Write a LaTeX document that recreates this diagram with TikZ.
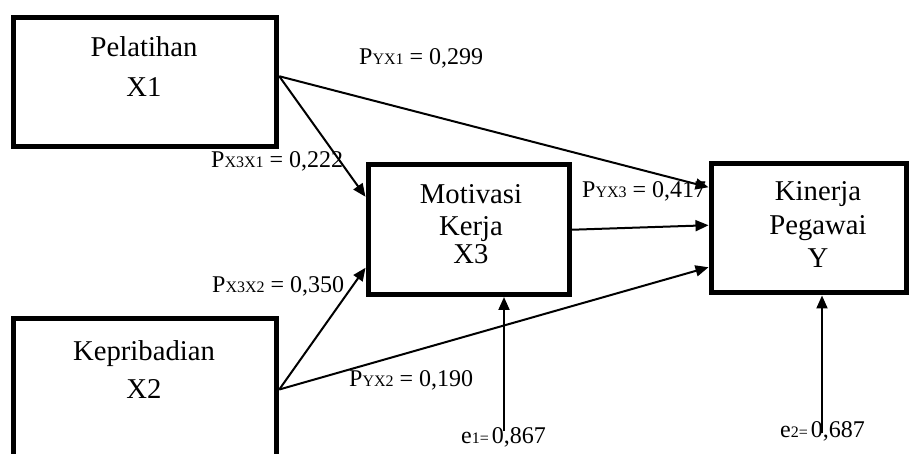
\documentclass[tikz,border=0pt]{standalone}
\usepackage{fontspec}
\setmainfont{Liberation Serif}
\usetikzlibrary{arrows.meta}
% small subscript set on the baseline
\newcommand{\sbs}[1]{{\fontsize{16}{16}\selectfont #1}}
\begin{document}
\begin{tikzpicture}[x=1pt,y=-1pt,
  varbox/.style n args={2}{draw, line width=5pt, minimum width=#1, minimum height=#2, inner sep=0pt},
  boxtext/.style={font=\fontsize{28.7}{30}\selectfont, anchor=base, inner sep=0pt},
  lbl/.style={font=\fontsize{24}{26}\selectfont, anchor=base west, inner sep=0pt},
  link/.style={line width=2pt, -{Triangle[length=13pt,width=11pt]}}
]
\useasboundingbox (0,0) rectangle (913,454);
\clip (0,0) rectangle (913,454);

% variable boxes
\node[varbox={263.5pt}{129.5pt}] (x1) at (145,82.25) {};
\node[varbox={263.5pt}{151pt}]   (x2) at (145,394.5) {};
\node[varbox={201pt}{129.5pt}]   (x3) at (468.5,229.75) {};
\node[varbox={195pt}{129.5pt}]   (y)  at (808.5,228.25) {};

% box captions
\node[boxtext] (x1a) at (144,57)  {Pelatihan};
\node[boxtext] (x1b) at (144,97)  {X1};
\node[boxtext] (x2a) at (144,360) {Kepribadian};
\node[boxtext] (x2b) at (144,398) {X2};
\node[boxtext] (x3a) at (471,204) {Motivasi};
\node[boxtext] (x3b) at (471,236) {Kerja};
\node[boxtext] (x3c) at (471,264) {X3};
\node[boxtext] (ya)  at (818,201) {Kinerja};
\node[boxtext] (yb)  at (818,235) {Pegawai};
\node[boxtext] (yc)  at (818,268) {Y};

% path coefficients
\node[lbl] (pyx1)  at (359,65)  {P\sbs{YX1} = 0,299};
\node[lbl] (px3x1) at (211,168) {P\sbs{X3X1} = 0,222};
\node[lbl] (px3x2) at (212,293) {P\sbs{X3X2} = 0,350};
\node[lbl] (pyx2)  at (349,386) {P\sbs{YX2} = 0,190};
\node[lbl] (pyx3)  at (582,198) {P\sbs{YX3} = 0,417};
\node[lbl] (e1l)   at (461,443) {e\sbs{1=}\hspace{3pt}0,867};
\node[lbl] (e2l)   at (780,437) {e\sbs{2=}\hspace{3pt}0,687};

% residual arrow origins
\coordinate (e1) at (504,431);
\coordinate (e2) at (822,433);

% paths
\draw[link] ([yshift=6pt]x1.east) -- ([yshift=33pt]x3.west);
\draw[link] ([yshift=6pt]x1.east) -- ([yshift=41pt]y.west);
\draw[link] ([yshift=5pt]x2.east) -- ([yshift=-38pt]x3.west);
\draw[link] ([yshift=5pt]x2.east) -- ([yshift=-39pt]y.west);
\draw[link] (x3.east) -- ([yshift=3pt]y.west);
\draw[link] (e1) -- (e1 |- x3.south);
\draw[link] (e2) -- (e2 |- y.south);
\end{tikzpicture}
\end{document}
